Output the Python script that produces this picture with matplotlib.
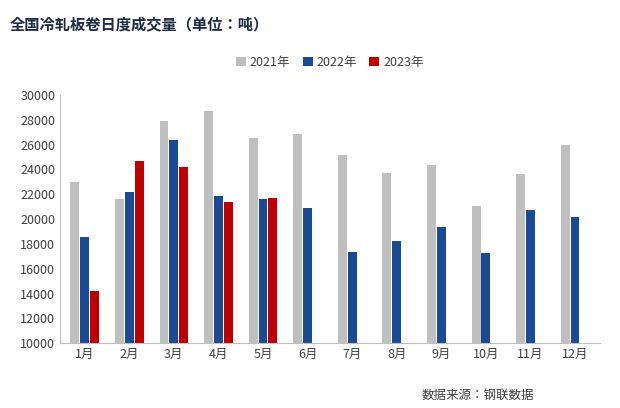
import matplotlib
matplotlib.use("Agg")
import matplotlib.pyplot as plt
from matplotlib import font_manager as fm
import numpy as np

# 找一個可用的中文字體
cjk = [f.name for f in fm.fontManager.ttflist if "CJK" in f.name]
cjk_name = "Noto Sans CJK SC" if "Noto Sans CJK SC" in cjk else (cjk[0] if cjk else "DejaVu Sans")
plt.rcParams["font.family"] = [cjk_name, "DejaVu Sans"]

# ===== 數據 =====
months = ["1月", "2月", "3月", "4月", "5月", "6月", "7月", "8月", "9月", "10月", "11月", "12月"]
vol_2021 = [23000, 21600, 27900, 28700, 26500, 26850, 25200, 23700, 24350, 21050, 23650, 26000]
vol_2022 = [18550, 22200, 26400, 21850, 21600, 20900, 17350, 18250, 19350, 17300, 20750, 20150]
vol_2023 = [14200, 24700, 24200, 21400, 21700]

fig = plt.figure(figsize=(6.2, 4.08), dpi=100)
ax = fig.add_axes([0.097, 0.159, 0.87, 0.608])

x = np.arange(len(months))
w = 0.2
ax.bar(x - 0.22, vol_2021, w, color="#BFBFBF", label="2021年")
ax.bar(x, vol_2022, w, color="#1B4A94", label="2022年")
ax.bar(np.arange(len(vol_2023)) + 0.22, vol_2023, w, color="#C00000", label="2023年")

ax.set_ylim(10000, 30000)
ax.set_yticks(range(10000, 30001, 2000))
ax.set_xlim(-0.55, len(months) - 0.45)
ax.set_xticks(x)
ax.set_xticklabels(months)
ax.tick_params(axis="both", labelsize=9, colors="#404040", length=0)
for s in ["top", "right"]:
    ax.spines[s].set_visible(False)
for s in ["left", "bottom"]:
    ax.spines[s].set_color("#BFBFBF")

ax.legend(loc="lower center", bbox_to_anchor=(0.5, 1.06), ncol=3, frameon=False,
          fontsize=9, handlelength=0.8, handleheight=0.8, columnspacing=1.0,
          handletextpad=0.3, labelcolor="#404040")

fig.text(0.015, 0.94, "全国冷轧板卷日度成交量（单位：吨）", fontsize=11,
         fontweight="bold", color="#1F2A44", va="center")
fig.text(0.68, 0.03, "数据来源：钢联数据", fontsize=9, color="#404040", va="center")

plt.savefig("out.png", dpi=100)
